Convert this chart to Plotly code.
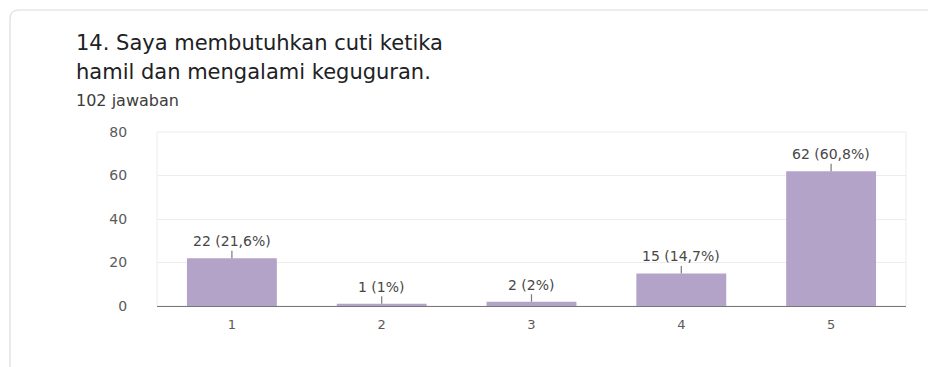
import plotly.graph_objects as go

# Survey responses for question 14 (scale 1-5)
categories = ["1", "2", "3", "4", "5"]
counts = [22, 1, 2, 15, 62]
percent_labels = ["21,6%", "1%", "2%", "14,7%", "60,8%"]
y_ticks = [0, 20, 40, 60, 80]

title_line1 = "14. Saya membutuhkan cuti ketika"
title_line2 = "hamil dan mengalami keguguran."
subtitle = "102 jawaban"

BAR_COLOR = "#b4a3c9"
FONT = "DejaVu Sans"

W, H = 928, 367
L, R, T, B = 157, 906, 132, 306  # plot area in pixels


def px_x(px):
    return (px - L) / (R - L)


def px_y(py):
    return (B - py) / (B - T)


fig = go.Figure()
fig.add_trace(go.Bar(
    x=[int(c) for c in categories],
    y=counts,
    width=0.6,
    marker=dict(color=BAR_COLOR, line=dict(width=0)),
    hoverinfo="skip",
))

annotations = []
for c, v, p in zip(categories, counts, percent_labels):
    annotations.append(dict(
        x=int(c), y=v, xref="x", yref="y",
        text=f"{v} ({p})",
        showarrow=True, arrowhead=0, arrowwidth=1.2, arrowcolor="#7a7a7a",
        ax=0, ay=-17, standoff=0,
        font=dict(family=FONT, size=14, color="#474747"),
    ))

annotations += [
    dict(x=px_x(74), y=px_y(43), xref="paper", yref="paper", text=title_line1,
         showarrow=False, xanchor="left", yanchor="middle",
         font=dict(family=FONT, size=21, color="#202124")),
    dict(x=px_x(74), y=px_y(72), xref="paper", yref="paper", text=title_line2,
         showarrow=False, xanchor="left", yanchor="middle",
         font=dict(family=FONT, size=21, color="#202124")),
    dict(x=px_x(74), y=px_y(100), xref="paper", yref="paper", text=subtitle,
         showarrow=False, xanchor="left", yanchor="middle",
         font=dict(family=FONT, size=16, color="#3c3c3c")),
]

# card outline with a rounded top-left corner
cx0, cy0, rad = px_x(10), px_y(10), 9
card_path = (
    f"M {px_x(10)},{px_y(380)} L {cx0},{px_y(10 + rad)} "
    f"Q {cx0},{cy0} {px_x(10 + rad)},{cy0} L {px_x(940)},{cy0}"
)

fig.update_layout(
    width=W, height=H,
    margin=dict(l=L, r=W - R, t=T, b=H - B, pad=0),
    paper_bgcolor="white", plot_bgcolor="white",
    showlegend=False,
    bargap=0.4,
    annotations=annotations,
    shapes=[
        dict(type="path", path=card_path, xref="paper", yref="paper",
             line=dict(color="#dadce0", width=1.2), layer="below"),
        dict(type="rect", xref="paper", yref="paper", x0=0, x1=1, y0=0, y1=1,
             line=dict(color="#ececec", width=1), layer="below"),
    ],
    xaxis=dict(
        range=[0.5, 5.5], tickvals=[1, 2, 3, 4, 5], ticktext=categories,
        showgrid=False, zeroline=False,
        showline=True, linecolor="#777777", linewidth=1.3,
        ticks="outside", ticklen=6, tickcolor="rgba(0,0,0,0)",
        tickfont=dict(family=FONT, size=13, color="#5a5a5a"),
        fixedrange=True,
    ),
    yaxis=dict(
        range=[0, 80], tickvals=y_ticks,
        showgrid=True, gridcolor="#ededed", gridwidth=1,
        zeroline=False, showline=False,
        ticks="outside", ticklen=26, tickcolor="rgba(0,0,0,0)",
        tickfont=dict(family=FONT, size=14, color="#5a5a5a"),
        fixedrange=True,
    ),
)

fig.write_html("out.html")
